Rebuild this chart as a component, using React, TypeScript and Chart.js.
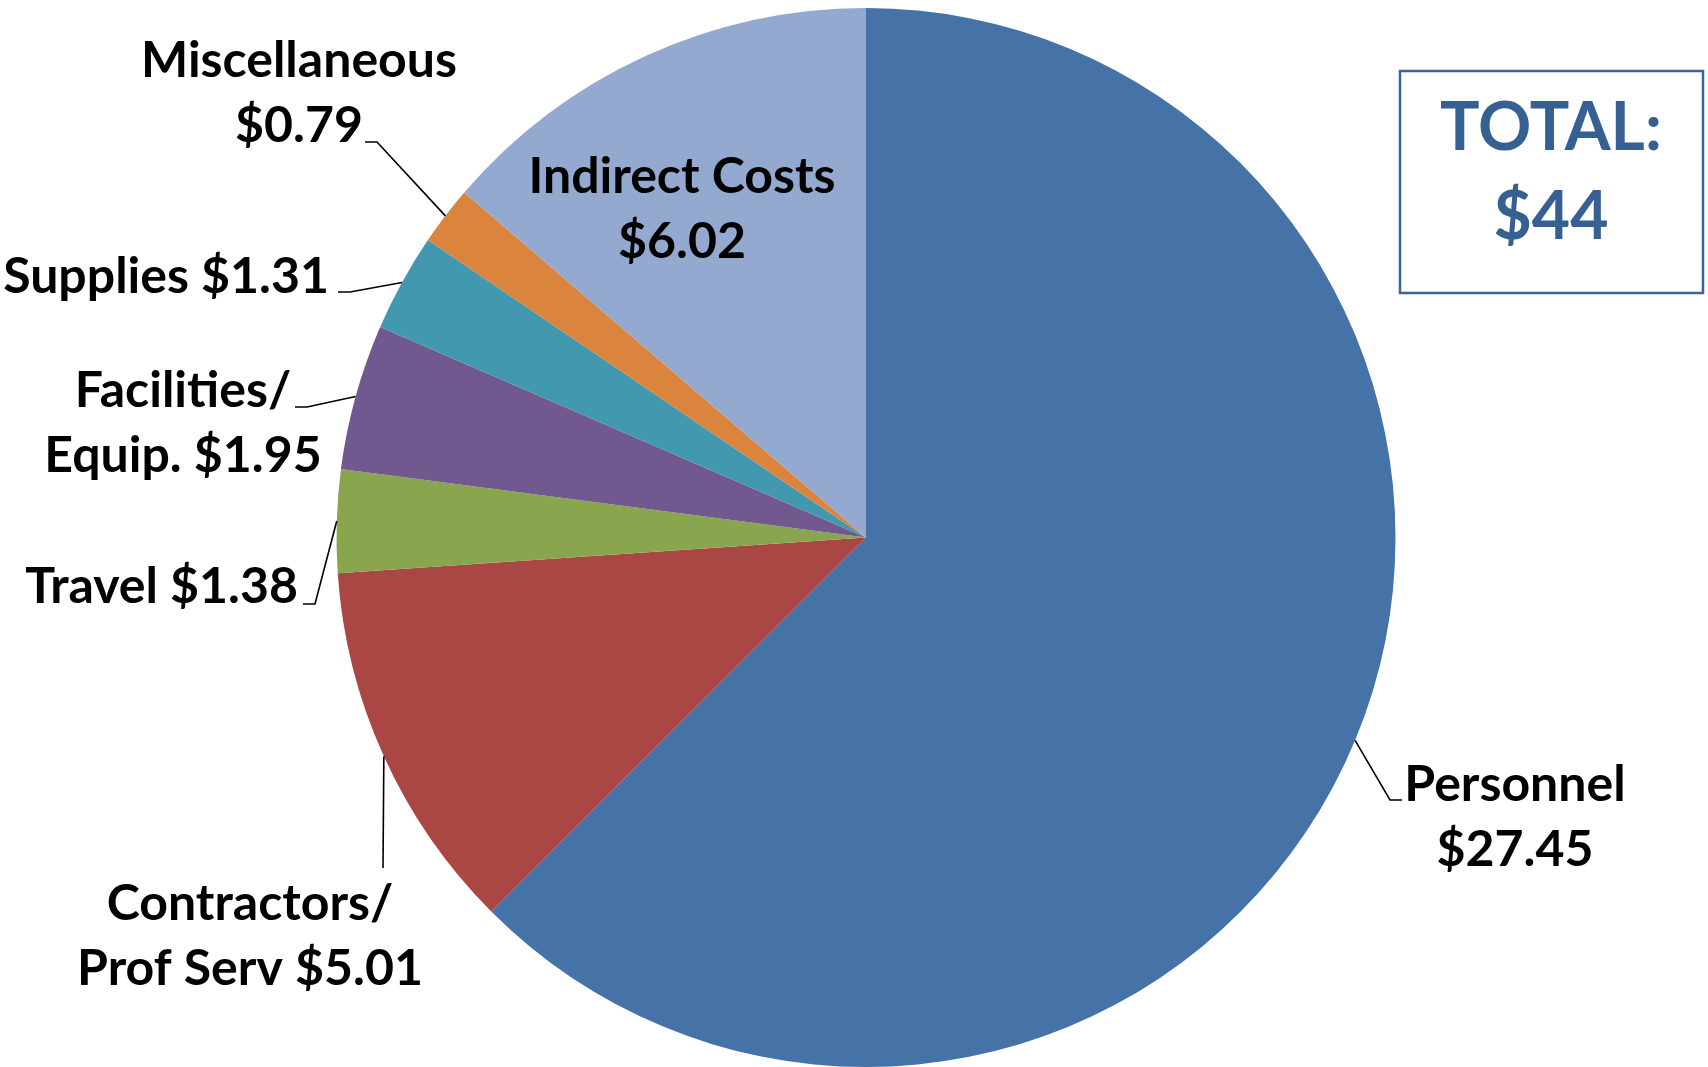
import React, { useEffect, useRef } from "react";
import { Chart, registerables } from "chart.js";

Chart.register(...registerables);

// ---- Data ----
const categories = [
  "Personnel",
  "Contractors/ Prof Serv",
  "Travel",
  "Facilities/ Equip.",
  "Supplies",
  "Miscellaneous",
  "Indirect Costs",
];
const values = [27.45, 5.01, 1.38, 1.95, 1.31, 0.79, 6.02];
const totalLabel = "$44";
const labelLines = [
  ["Personnel", "$27.45"],
  ["Contractors/", "Prof Serv $5.01"],
  ["Travel $1.38"],
  ["Facilities/", "Equip. $1.95"],
  ["Supplies $1.31"],
  ["Miscellaneous", "$0.79"],
  ["Indirect Costs", "$6.02"],
];
const colors = ["#4572A7", "#AA4643", "#89A54E", "#71588F", "#4198AF", "#DB843D", "#93A9CF"];

// ---- Label layout (annotation positions, canvas px) ----
type LabelLayout = {
  align: CanvasTextAlign;
  x: number;
  y: number; // first baseline
  leader: number[][]; // points after the arc edge point
};
const labelLayout: LabelLayout[] = [
  { align: "center", x: 1515, y: 801, leader: [[1390, 800], [1402, 800]] },
  { align: "center", x: 250, y: 920, leader: [[383, 868]] },
  { align: "right", x: 298, y: 603, leader: [[315, 604], [303, 604]] },
  { align: "center", x: 183, y: 407, leader: [[307, 407], [295, 407]] },
  { align: "right", x: 329, y: 293, leader: [[350, 292], [338, 292]] },
  { align: "center", x: 299, y: 77, leader: [[377, 142], [365, 142]] },
  { align: "center", x: 682, y: 193, leader: [] },
];
const LINE_H = 65;
const LABEL_FONT = "bold 50px Lato, 'Open Sans', sans-serif";

const labelPlugin = {
  id: "customLabels",
  afterDraw(chart: any) {
    const ctx: CanvasRenderingContext2D = chart.ctx;
    const meta = chart.getDatasetMeta(0);
    ctx.save();
    meta.data.forEach((arc: any, i: number) => {
      const lay = labelLayout[i];
      const { x, y, startAngle, endAngle, outerRadius } = arc.getProps(
        ["x", "y", "startAngle", "endAngle", "outerRadius"],
        true
      );
      const mid = (startAngle + endAngle) / 2;
      const ex = x + Math.cos(mid) * outerRadius;
      const ey = y + Math.sin(mid) * outerRadius;
      if (lay.leader.length) {
        ctx.beginPath();
        ctx.strokeStyle = "#000";
        ctx.lineWidth = 1.6;
        ctx.moveTo(ex, ey);
        lay.leader.forEach((p) => ctx.lineTo(p[0], p[1]));
        ctx.stroke();
      }
      ctx.fillStyle = "#000";
      ctx.font = LABEL_FONT;
      ctx.textAlign = lay.align;
      ctx.textBaseline = "alphabetic";
      labelLines[i].forEach((line, j) => {
        ctx.fillText(line, lay.x, lay.y + j * LINE_H);
      });
    });

    // TOTAL box
    ctx.strokeStyle = "#3A6597";
    ctx.lineWidth = 2.5;
    ctx.strokeRect(1400, 71, 303, 222);
    ctx.fillStyle = "#376092";
    ctx.font = "bold 66px Lato, 'Open Sans', sans-serif";
    ctx.textAlign = "center";
    ctx.fillText("TOTAL:", 1551, 150);
    ctx.fillText(totalLabel, 1551, 239);
    ctx.restore();
  },
};

export default function App() {
  const canvasRef = useRef<HTMLCanvasElement | null>(null);

  useEffect(() => {
    document.body.style.margin = "0";
    const canvas = canvasRef.current;
    if (!canvas) return;
    const chart = new Chart(canvas, {
      type: "pie",
      data: {
        labels: categories,
        datasets: [
          {
            data: values,
            backgroundColor: colors,
            borderWidth: 0,
            hoverOffset: 0,
          },
        ],
      },
      options: {
        responsive: false,
        animation: false,
        layout: { padding: { left: 336, right: 312, top: 8, bottom: 0 } },
        plugins: {
          legend: { display: false },
          tooltip: { enabled: false },
        },
      },
      plugins: [labelPlugin],
    });
    return () => chart.destroy();
  }, []);

  return (
    <div style={{ position: "absolute", left: 0, top: 0, width: 1708, height: 1067, background: "#fff" }}>
      <canvas ref={canvasRef} width={1708} height={1067} style={{ display: "block" }} />
    </div>
  );
}
